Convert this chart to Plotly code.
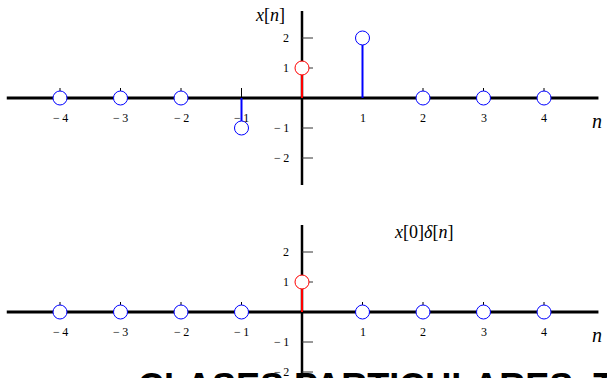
import plotly.graph_objects as go

n_vals = [-4, -3, -2, -1, 0, 1, 2, 3, 4]
x_vals = [0, 0, 0, -1, 1, 2, 0, 0, 0]          # x[n]
d_vals = [0, 0, 0, 0, 1, 0, 0, 0, 0]           # x[0]·delta[n]
y_ticks = [-2, -1, 1, 2]
x_tick_labels = ["\u2212\u20094", "\u2212\u20093", "\u2212\u20092", "\u2212\u20091", "",
                 "1", "2", "3", "4"]
y_tick_labels = ["\u2212\u20092", "\u2212\u20091", "1", "2"]
titles = ["<i>x</i>[<i>n</i>]", "<i>x</i>[0]<i>\u03b4</i>[<i>n</i>]"]
watermark = "CLASES PARTICULARES, TUTORÍAS TÉCNICAS ONLINE"

W, H = 607, 378
px_per_n = 60.5
px_per_v = 30.0
origin_x = 302
origins_y = [98, 312]
domains = [[0.5, 1.0], [0.0, 0.5]]

BLUE = "#0000ff"
RED = "#ff0000"
SERIF = "Liberation Serif, Times New Roman, serif"

fig = go.Figure()
layout = dict(width=W, height=H, margin=dict(l=0, r=0, t=0, b=0),
              paper_bgcolor="white", plot_bgcolor="white", showlegend=False)
shapes = []
annotations = []

for k, (vals, oy, dom) in enumerate(zip([x_vals, d_vals], origins_y, domains)):
    xa = "x" if k == 0 else "x2"
    ya = "y" if k == 0 else "y2"
    xr = [-origin_x / px_per_n, (W - origin_x) / px_per_n]
    top_px = H * (1 - dom[1])
    bot_px = H * (1 - dom[0])
    yr = [(oy - bot_px) / px_per_v, (oy - top_px) / px_per_v]
    axis_common = dict(showgrid=False, zeroline=False, showticklabels=False,
                       showline=False, ticks="", fixedrange=True)
    layout["xaxis" if k == 0 else "xaxis2"] = dict(range=xr, domain=[0, 1],
                                                  anchor=ya, **axis_common)
    layout["yaxis" if k == 0 else "yaxis2"] = dict(range=yr, domain=dom,
                                                  anchor=xa, **axis_common)
    # axes
    shapes.append(dict(type="line", xref=xa, yref=ya, x0=-4.88, x1=4.9, y0=0, y1=0,
                       line=dict(color="black", width=3), layer="below"))
    shapes.append(dict(type="line", xref=xa, yref=ya, x0=0, x1=0, y0=-2.9, y1=2.9,
                       line=dict(color="black", width=2.5), layer="below"))
    # x tick marks
    for n in n_vals:
        if n == 0:
            continue
        shapes.append(dict(type="line", xref=xa, yref=ya, x0=n, x1=n, y0=0,
                           y1=10 / px_per_v, line=dict(color="black", width=1),
                           layer="below"))
    # y tick marks
    for v in y_ticks:
        shapes.append(dict(type="line", xref=xa, yref=ya, x0=0, x1=11 / px_per_n,
                           y0=v, y1=v, line=dict(color="#333333", width=1),
                           layer="below"))
    # x tick labels
    for n, lab in zip(n_vals, x_tick_labels):
        if not lab:
            continue
        annotations.append(dict(xref=xa, yref=ya, x=n, y=-20 / px_per_v, text=lab,
                                showarrow=False, xanchor="center", yanchor="middle",
                                font=dict(family=SERIF, size=12, color="black")))
    # y tick labels
    for v, lab in zip(y_ticks, y_tick_labels):
        annotations.append(dict(xref=xa, yref=ya, x=-11 / px_per_n, y=v, text=lab,
                                showarrow=False, xanchor="right", yanchor="middle",
                                font=dict(family=SERIF, size=12, color="black")))
    # axis name n
    annotations.append(dict(xref=xa, yref=ya, x=295 / px_per_n, y=-23 / px_per_v,
                            text="<i>n</i>", showarrow=False, xanchor="center",
                            yanchor="middle",
                            font=dict(family=SERIF, size=20, color="black")))
    # title
    tx = [-32 / px_per_n, 121 / px_per_n][k]
    ty = [83 / px_per_v, 80 / px_per_v][k]
    annotations.append(dict(xref=xa, yref=ya, x=tx, y=ty, text=titles[k],
                            showarrow=False, xanchor="center", yanchor="middle",
                            font=dict(family=SERIF, size=18, color="black")))

    # stems
    for color, sel in [(BLUE, lambda n: n != 0), (RED, lambda n: n == 0)]:
        sx, sy = [], []
        for n, v in zip(n_vals, vals):
            if sel(n) and v != 0:
                sx += [n, n, None]
                sy += [0, v, None]
        if sx:
            fig.add_trace(go.Scatter(x=sx, y=sy, mode="lines", xaxis=xa, yaxis=ya,
                                     line=dict(color=color, width=2),
                                     hoverinfo="skip"))
    # markers
    colors = [RED if n == 0 else BLUE for n in n_vals]
    fig.add_trace(go.Scatter(x=n_vals, y=vals, mode="markers", xaxis=xa, yaxis=ya,
                             cliponaxis=False,
                             marker=dict(symbol="circle", size=14, color="white",
                                         line=dict(color=colors, width=1))))

annotations.append(dict(xref="paper", yref="paper", x=136 / W, y=1 - 364 / H,
                        text="<b>" + watermark + "</b>", showarrow=False,
                        xanchor="left", yanchor="top",
                        font=dict(family="Liberation Sans", size=36, color="black")))

layout["shapes"] = shapes
layout["annotations"] = annotations
fig.update_layout(**layout)
fig.write_html("out.html", config={"displayModeBar": False},
               post_script="document.body.style.margin='0';")
